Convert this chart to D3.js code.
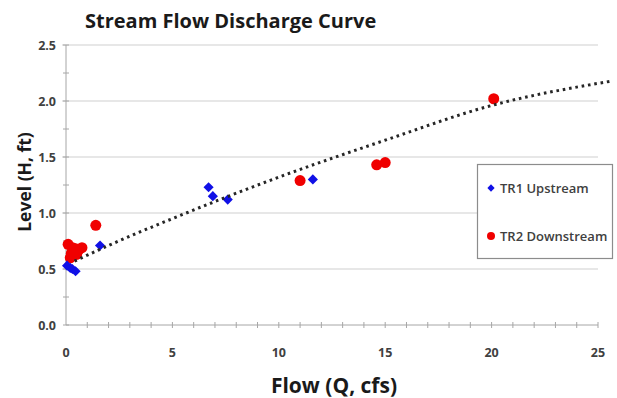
<!DOCTYPE html>
<html>
<head>
<meta charset="utf-8">
<script src="https://cdn.jsdelivr.net/npm/d3@7"></script>
<style>
  body { margin: 0; background: #fff; }
  text { font-family: "Open Sans", sans-serif; }
</style>
</head>
<body>
<div id="chart"></div>
<script>
// TR1 Upstream (blue diamonds)
var tr1Flow  = [0.05, 0.2, 0.3, 0.45, 1.6, 6.7, 6.9, 7.6, 11.6];
var tr1Level = [0.53, 0.51, 0.50, 0.48, 0.71, 1.23, 1.15, 1.12, 1.30];

// TR2 Downstream (red circles)
var tr2Flow  = [0.1, 0.3, 0.45, 0.6, 0.75, 0.25, 0.5, 0.2, 1.4, 11.0, 14.6, 15.0, 20.1];
var tr2Level = [0.72, 0.69, 0.68, 0.67, 0.69, 0.64, 0.63, 0.60, 0.89, 1.29, 1.43, 1.45, 2.02];

// dotted trend curve
var trendFlow  = [0.4, 2, 5, 10, 15, 20, 25.7];
var trendLevel = [0.57, 0.71, 0.95, 1.32, 1.65, 1.96, 2.18];

var xTicks = [0, 5, 10, 15, 20, 25];
var yTicks = [0.0, 0.5, 1.0, 1.5, 2.0, 2.5];
var seriesNames = ["TR1 Upstream", "TR2 Downstream"];

var width = 617, height = 398;
var x = d3.scaleLinear().domain([0, 25]).range([66, 598]);
var y = d3.scaleLinear().domain([0, 2.5]).range([325, 45]);

var svg = d3.select("#chart").append("svg")
    .attr("width", width)
    .attr("height", height);

// horizontal gridlines
svg.append("g").selectAll("line")
    .data(yTicks.slice(1))
    .enter().append("line")
    .attr("x1", x(0) - 4).attr("x2", x(25))
    .attr("y1", function (d) { return y(d); })
    .attr("y2", function (d) { return y(d); })
    .attr("stroke", "#cfcfcf")
    .attr("stroke-width", 1);

// axis lines
svg.append("line")
    .attr("x1", x(0)).attr("x2", x(0))
    .attr("y1", y(0)).attr("y2", y(2.5))
    .attr("stroke", "#a6a6a6");
svg.append("line")
    .attr("x1", x(0)).attr("x2", x(25))
    .attr("y1", y(0)).attr("y2", y(0))
    .attr("stroke", "#a6a6a6");

// minor ticks (cross style)
svg.append("g").selectAll("line")
    .data(d3.range(1, 26))
    .enter().append("line")
    .attr("x1", function (d) { return x(d); })
    .attr("x2", function (d) { return x(d); })
    .attr("y1", y(0) - 3).attr("y2", y(0) + 3)
    .attr("stroke", "#a6a6a6");
svg.append("g").selectAll("line")
    .data(d3.range(0, 11).map(function (i) { return i * 0.25; }))
    .enter().append("line")
    .attr("x1", x(0) - 3).attr("x2", x(0) + 3)
    .attr("y1", function (d) { return y(d); })
    .attr("y2", function (d) { return y(d); })
    .attr("stroke", "#a6a6a6");

// tick labels
svg.append("g").selectAll("text")
    .data(yTicks)
    .enter().append("text")
    .attr("x", 56)
    .attr("y", function (d) { return y(d) + 4.5; })
    .attr("text-anchor", "end")
    .attr("font-size", "12.5px")
    .attr("font-weight", "bold")
    .attr("fill", "#404040")
    .text(function (d) { return d.toFixed(1); });

svg.append("g").selectAll("text")
    .data(xTicks)
    .enter().append("text")
    .attr("x", function (d) { return x(d); })
    .attr("y", 357)
    .attr("text-anchor", "middle")
    .attr("font-size", "12.5px")
    .attr("font-weight", "bold")
    .attr("fill", "#404040")
    .text(function (d) { return d; });

// titles
svg.append("text")
    .attr("x", 85).attr("y", 28)
    .attr("font-size", "20px")
    .attr("font-weight", "bold")
    .attr("fill", "#1a1a1a")
    .text("Stream Flow Discharge Curve");

svg.append("text")
    .attr("x", 334).attr("y", 393)
    .attr("text-anchor", "middle")
    .attr("font-size", "21px")
    .attr("font-weight", "bold")
    .attr("fill", "#1a1a1a")
    .text("Flow (Q, cfs)");

svg.append("text")
    .attr("transform", "translate(31,182) rotate(-90)")
    .attr("text-anchor", "middle")
    .attr("font-size", "17.5px")
    .attr("font-weight", "bold")
    .attr("fill", "#1a1a1a")
    .text("Level (H, ft)");

// trend line
var trend = trendFlow.map(function (d, i) { return [d, trendLevel[i]]; });
var line = d3.line()
    .x(function (d) { return x(d[0]); })
    .y(function (d) { return y(d[1]); })
    .curve(d3.curveMonotoneX);

// markers
var tr1 = tr1Flow.map(function (d, i) { return [d, tr1Level[i]]; });
var tr2 = tr2Flow.map(function (d, i) { return [d, tr2Level[i]]; });

svg.append("g").selectAll("circle")
    .data(tr2)
    .enter().append("circle")
    .attr("cx", function (d) { return x(d[0]); })
    .attr("cy", function (d) { return y(d[1]); })
    .attr("r", 5.5)
    .attr("fill", "#f00000");

var diamond = d3.symbol().type(d3.symbolDiamond2).size(66);
svg.append("g").selectAll("path")
    .data(tr1)
    .enter().append("path")
    .attr("d", diamond)
    .attr("transform", function (d) {
        return "translate(" + x(d[0]) + "," + y(d[1]) + ")";
    })
    .attr("fill", "#1010e6");

svg.append("path")
    .datum(trend)
    .attr("d", line)
    .attr("fill", "none")
    .attr("stroke", "#262626")
    .attr("stroke-width", 3)
    .attr("stroke-dasharray", "2.6 3.8");

// legend
var legend = svg.append("g");
legend.append("rect")
    .attr("x", 477.5).attr("y", 164.5)
    .attr("width", 135).attr("height", 94)
    .attr("fill", "#fff")
    .attr("stroke", "#8c8c8c")
    .attr("stroke-width", 1.2);

legend.append("path")
    .attr("d", d3.symbol().type(d3.symbolDiamond2).size(34))
    .attr("transform", "translate(491,188)")
    .attr("fill", "#1010e6");
legend.append("circle")
    .attr("cx", 491).attr("cy", 236).attr("r", 4)
    .attr("fill", "#f00000");

legend.selectAll("text")
    .data(seriesNames)
    .enter().append("text")
    .attr("x", 500)
    .attr("y", function (d, i) { return i === 0 ? 193 : 241; })
    .attr("font-size", "13px")
    .attr("font-weight", "600")
    .attr("fill", "#404040")
    .text(function (d) { return d; });
</script>
</body>
</html>
